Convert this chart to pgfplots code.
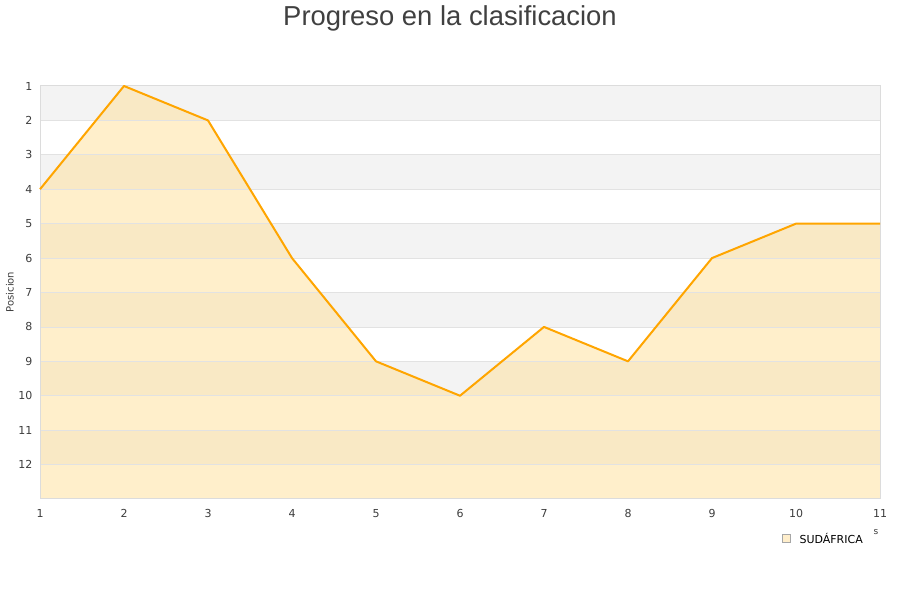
\documentclass[border=0pt]{standalone}
\usepackage{pgfplots}
\pgfplotsset{compat=1.18}
\usepackage{fontspec}
\setmainfont{DejaVu Sans}
\newfontfamily\titlefont{Liberation Sans}
\definecolor{bandgray}{RGB}{243,243,243}
\definecolor{framegray}{RGB}{220,220,220}
\definecolor{gridgray}{RGB}{226,226,226}
\definecolor{lineorange}{RGB}{255,165,0}
\definecolor{areafill}{RGB}{255,225,160}
\definecolor{ticktext}{RGB}{60,60,60}
\definecolor{titletext}{RGB}{64,64,64}

\begin{document}
\begin{tikzpicture}[x=1pt,y=1pt]
\begin{axis}[
    at={(40pt,101pt)}, anchor=south west,
    scale only axis,
    width=840pt, height=413pt,
    xmin=1, xmax=11,
    ymin=1, ymax=13,
    y dir=reverse,
    xtick={1,...,11},
    ytick={1,...,12},
    axis line style={framegray, line width=1pt},
    tick style={draw=none},
    ticklabel style={font=\fontsize{11}{13}\selectfont, text=ticktext},
    xticklabel style={yshift=-7pt},
    yticklabel style={xshift=-4pt},
    /pgf/number format/assume math mode=true,
    set layers,
    clip=false,
]
\pgfplotsinvokeforeach{1,3,5,7,9,11}{
  \fill[bandgray, on layer=axis background] (axis cs:1,#1) rectangle (axis cs:11,#1+1);
}
\addplot[draw=none, fill=areafill, fill opacity=0.55]
    coordinates {
    (1,13)(1,4)(2,1)(3,2)(4,6)(5,9)(6,10)(7,8)(8,9)(9,6)(10,5)(11,5)(11,13)
    } -- cycle;
\pgfplotsinvokeforeach{2,...,12}{
  \draw[gridgray, line width=0.8pt] (axis cs:1,#1) -- (axis cs:11,#1);
}
\draw[framegray, line width=1pt] (rel axis cs:0,0) rectangle (rel axis cs:1,1);
\addplot[lineorange, line width=2pt, line join=round]
    coordinates {
    (1,4)(2,1)(3,2)(4,6)(5,9)(6,10)(7,8)(8,9)(9,6)(10,5)(11,5)
    };
\end{axis}
\node[font=\fontsize{10}{12}\selectfont, text=ticktext, rotate=90] at (10,308) {Posicion};
\node[font=\titlefont\fontsize{27.4}{31}\selectfont, text=titletext, anchor=base] at (450,574) {Progreso en la clasificacion};
\node[font=\fontsize{9}{10}\selectfont, text=ticktext] at (876,68) {s};
\draw[fill=areafill!55, draw=gray!70, line width=0.6pt] (782,58) rectangle (790,66);
\node[font=\fontsize{11}{13}\selectfont, anchor=west] at (796,62) {SUDÁFRICA};
\pgfresetboundingbox
\path[use as bounding box] (0,0) rectangle (900,600);
\end{tikzpicture}
\end{document}
